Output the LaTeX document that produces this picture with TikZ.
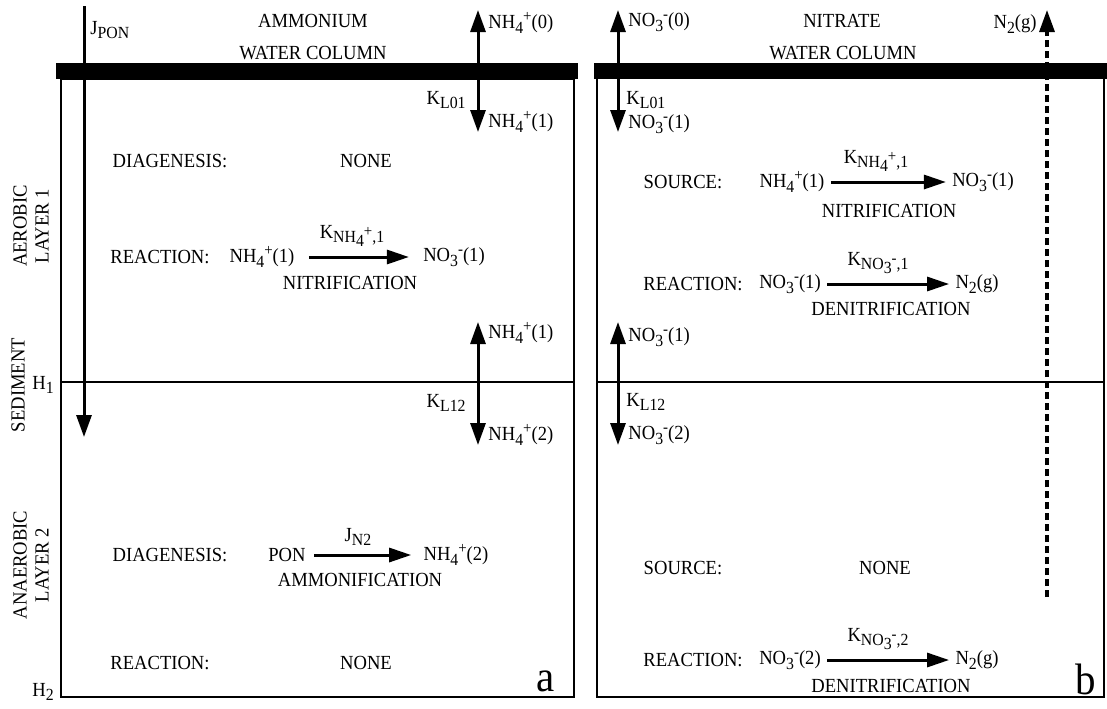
\documentclass[tikz,border=0pt]{standalone}
\usepackage{fontspec}
\setmainfont[FakeStretch=0.93]{Liberation Serif}
\usetikzlibrary{arrows.meta}
\newcommand{\lowtxt}[1]{\raisebox{-0.5ex}{\fontsize{8.5}{9}\selectfont #1}}
\newcommand{\hightxt}[1]{\raisebox{0.8ex}{\fontsize{8}{9}\selectfont #1}}
\newcommand{\nhf}{NH\lowtxt{4}\hightxt{+}}
\newcommand{\nth}{NO\lowtxt{3}\hightxt{-}}

\begin{document}
\begin{tikzpicture}[x=0.5pt,y=-0.5pt,font=\fontsize{10}{12}\selectfont,inner sep=2pt,
  flux/.style={line width=1.5pt,-{Triangle[length=11pt,width=7.5pt]}},
  exch/.style={line width=1.5pt,{Triangle[length=11pt,width=7.5pt]}-{Triangle[length=11pt,width=7.5pt]}},
  rxn/.style={line width=1.5pt,-{Triangle[length=11pt,width=7pt]},shorten <=1pt,shorten >=1pt},
  gas/.style={line width=1.6pt,dash pattern=on 3.5pt off 2pt,-{Triangle[length=11pt,width=7.5pt]}},
  box/.style={line width=1pt},
  side/.style={rotate=90,align=center,font=\fontsize{10}{11}\selectfont},
  tag/.style={font=\fontsize{22}{24}\selectfont}]

\useasboundingbox (0,0) rectangle (1107,708);

% Panels
\fill (56,63) rectangle (578,79);
\draw[box] (61,79) rectangle (574,697);
\draw[box] (61,382) -- (574,382);
\fill (594,63) rectangle (1107,79);
\draw[box] (597,79) -- (597,697) -- (1104,697) -- (1104,79);
\draw[box] (597,382) -- (1104,382);

% Side labels
\node[side] (aerobic) at (31,226) {AEROBIC\\LAYER 1};
\node[side] (sediment) at (18,385) {SEDIMENT};
\node[side] (anaerobic) at (31,565) {ANAEROBIC\\LAYER 2};
\node (h1) at (43,385) {H\lowtxt{1}};
\node (h2) at (43,692) {H\lowtxt{2}};

% Panel a: ammonium
\node (titleA) at (313,21) {AMMONIUM};
\node (waterA) at (313,53) {WATER COLUMN};
\node[tag] (tagA) at (546,681) {a};

\coordinate (jtop) at (84,6);
\coordinate (jbot) at (84,437);
\draw[flux] (jtop) -- (jbot);
\node[anchor=west] (jpon) at (86,30) {J\lowtxt{PON}};

\coordinate (am0) at (478,10);
\coordinate (am1) at (478,132);
\draw[exch] (am0) -- (am1);
\node[anchor=west] (amzero) at (484,23) {\nhf(0)};
\node[anchor=east] (kla) at (470,100) {K\lowtxt{L01}};
\node[anchor=west] (amone) at (484,122) {\nhf(1)};

\coordinate (am2) at (478,322);
\coordinate (am3) at (478,445);
\draw[exch] (am2) -- (am3);
\node[anchor=west] (amonel) at (484,333) {\nhf(1)};
\node[anchor=east] (klb) at (470,403) {K\lowtxt{L12}};
\node[anchor=west] (amtwo) at (484,435) {\nhf(2)};

\node (diaA) at (170,161) {DIAGENESIS:};
\node (noneA) at (366,161) {NONE};

\node (reaA) at (160,257) {REACTION:};
\node (nhA) at (262,257) {\nhf(1)};
\node (noA) at (454,257) {\nth(1)};
\draw[rxn,shorten <=5pt,shorten >=5pt] (nhA) -- (noA);
\node (knhA) at (352,236) {K\lowtxt{\nhf,1}};
\node (nitA) at (350,283) {NITRIFICATION};

\node (diaB) at (170,555) {DIAGENESIS:};
\node (pon) at (287,555) {PON};
\node (nhB) at (456,555) {\nhf(2)};
\draw[rxn,shorten <=2pt,shorten >=4pt] (pon) -- (nhB);
\node (jn) at (358,537) {J\lowtxt{N2}};
\node (amm) at (360,580) {AMMONIFICATION};

\node (reaB) at (160,663) {REACTION:};
\node (noneB) at (366,663) {NONE};

% Panel b: nitrate
\node (titleB) at (842,21) {NITRATE};
\node (waterB) at (843,53) {WATER COLUMN};
\node[tag] (tagB) at (1086,679) {b};

\coordinate (ni0) at (618,10);
\coordinate (ni1) at (618,132);
\draw[exch] (ni0) -- (ni1);
\node[anchor=west] (nizero) at (624,22) {\nth(0)};
\node[anchor=west] (klc) at (622,100) {K\lowtxt{L01}};
\node[anchor=west] (nione) at (624,124) {\nth(1)};

\coordinate (ni2) at (618,322);
\coordinate (ni3) at (618,445);
\draw[exch] (ni2) -- (ni3);
\node[anchor=west] (nionel) at (624,337) {\nth(1)};
\node[anchor=west] (kld) at (622,402) {K\lowtxt{L12}};
\node[anchor=west] (nitwo) at (624,435) {\nth(2)};

\coordinate (gbot) at (1047,597);
\coordinate (gtop) at (1047,10);
\draw[gas] (gbot) -- (gtop);
\node[anchor=east] (ngas) at (1041,24) {N\lowtxt{2}(g)};

\node (srcA) at (683,182) {SOURCE:};
\node (nhC) at (792,182) {\nhf(1)};
\node (noC) at (983,182) {\nth(1)};
\draw[rxn] (nhC) -- (noC);
\node (knhC) at (876,161) {K\lowtxt{\nhf,1}};
\node (nitC) at (889,211) {NITRIFICATION};

\node (reaC) at (693,284) {REACTION:};
\node (noD) at (790,284) {\nth(1)};
\node (ngD) at (977,284) {N\lowtxt{2}(g)};
\draw[rxn] (noD) -- (ngD);
\node (knoD) at (878,263) {K\lowtxt{\nth,1}};
\node (denD) at (891,309) {DENITRIFICATION};

\node (srcE) at (683,568) {SOURCE:};
\node (noneE) at (885,568) {NONE};

\node (reaF) at (693,660) {REACTION:};
\node (noF) at (790,660) {\nth(2)};
\node (ngF) at (977,660) {N\lowtxt{2}(g)};
\draw[rxn] (noF) -- (ngF);
\node (knoF) at (878,639) {K\lowtxt{\nth,2}};
\node (denF) at (891,686) {DENITRIFICATION};
\end{tikzpicture}
\end{document}
